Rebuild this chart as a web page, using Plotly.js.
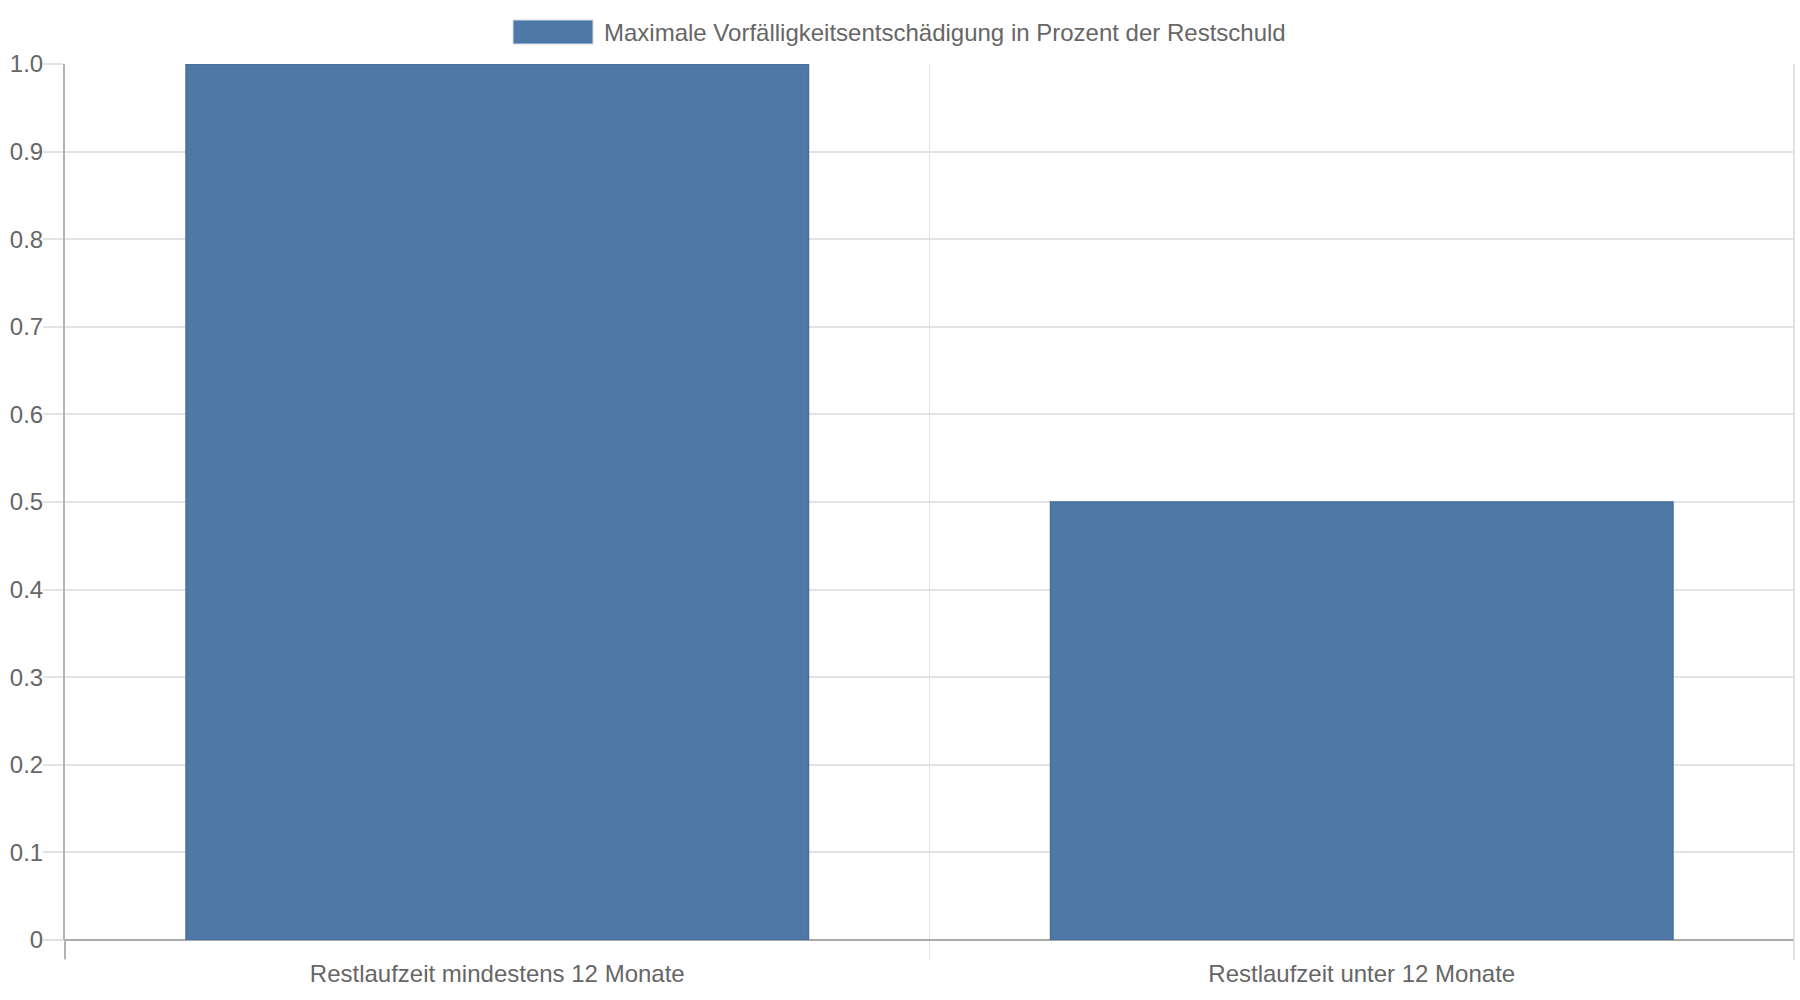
<!DOCTYPE html>
<html>
<head>
<meta charset="utf-8">
<script src="https://cdn.plot.ly/plotly-3.0.1.min.js"></script>
<style>
  html, body { margin: 0; padding: 0; background: #fff; }
  #chart { width: 1800px; height: 1000px; }
</style>
</head>
<body>
<div id="chart"></div>
<script>
// data
var categories = ['Restlaufzeit mindestens 12 Monate', 'Restlaufzeit unter 12 Monate'];
var values = [1.0, 0.5];
var seriesName = 'Maximale Vorfälligkeitsentschädigung in Prozent der Restschuld';
var yTickVals = [0, 0.1, 0.2, 0.3, 0.4, 0.5, 0.6, 0.7, 0.8, 0.9, 1.0];
var yTickText = ['0', '0.1', '0.2', '0.3', '0.4', '0.5', '0.6', '0.7', '0.8', '0.9', '1.0'];

var barColor = '#4e79a7';
var textColor = '#666666';
var gridColor = '#e3e3e3';
var font = 'Liberation Sans, Arial, sans-serif';

var trace = {
  type: 'bar',
  x: categories,
  y: values,
  name: seriesName,
  marker: {
    color: barColor,
    line: { color: '#466e9a', width: 1.5 }
  },
  hoverinfo: 'x+y'
};

// plot area in pixels: left 65, right 1794, top 64, bottom 940
var plotW = 1800 - 65 - 6;
var plotH = 1000 - 64 - 60;
function px(x) { return (x - 65) / plotW; }
function py(y) { return (940 - y) / plotH; }

var layout = {
  width: 1800,
  height: 1000,
  margin: { l: 65, r: 6, t: 64, b: 60, pad: 0 },
  paper_bgcolor: '#ffffff',
  plot_bgcolor: '#ffffff',
  showlegend: false,
  bargap: 0.28,
  font: { family: font, size: 24, color: textColor },
  xaxis: {
    type: 'category',
    tickson: 'boundaries',
    ticks: 'outside',
    ticklen: 19,
    tickwidth: 1.5,
    tickcolor: gridColor,
    showgrid: true,
    gridcolor: gridColor,
    gridwidth: 1.5,
    showline: false,
    zeroline: false,
    ticklabelstandoff: 17,
    tickfont: { family: font, size: 24, color: textColor },
    fixedrange: true
  },
  yaxis: {
    range: [0, 1],
    tickvals: yTickVals,
    ticktext: yTickText,
    ticks: 'outside',
    ticklen: 20,
    tickwidth: 2,
    tickcolor: gridColor,
    showgrid: true,
    gridcolor: gridColor,
    gridwidth: 2,
    showline: true,
    linecolor: '#b3b3b3',
    linewidth: 2,
    zeroline: true,
    zerolinecolor: '#aaaaaa',
    zerolinewidth: 2.5,
    ticklabelstandoff: -5,
    tickfont: { family: font, size: 24, color: textColor },
    fixedrange: true
  },
  shapes: [
    // legend swatch
    {
      type: 'rect', xref: 'paper', yref: 'paper',
      x0: px(513), x1: px(593), y0: py(44), y1: py(20),
      fillcolor: barColor,
      line: { color: '#d6dee8', width: 1 }
    },
    // right border of the plot area
    {
      type: 'line', xref: 'paper', yref: 'paper',
      x0: 1, x1: 1, y0: 0, y1: 1,
      line: { color: gridColor, width: 2 }
    },
    // left axis continuation below zero
    {
      type: 'line', xref: 'paper', yref: 'paper',
      x0: 0, x1: 0, y0: py(959), y1: 0,
      line: { color: '#b3b3b3', width: 2 }
    }
  ],
  annotations: [
    {
      xref: 'paper', yref: 'paper',
      x: px(602), y: py(32),
      xanchor: 'left', yanchor: 'middle',
      showarrow: false,
      text: seriesName,
      font: { family: font, size: 24, color: textColor }
    }
  ]
};

Plotly.newPlot('chart', [trace], layout, { displayModeBar: false, staticPlot: true });
</script>
</body>
</html>
